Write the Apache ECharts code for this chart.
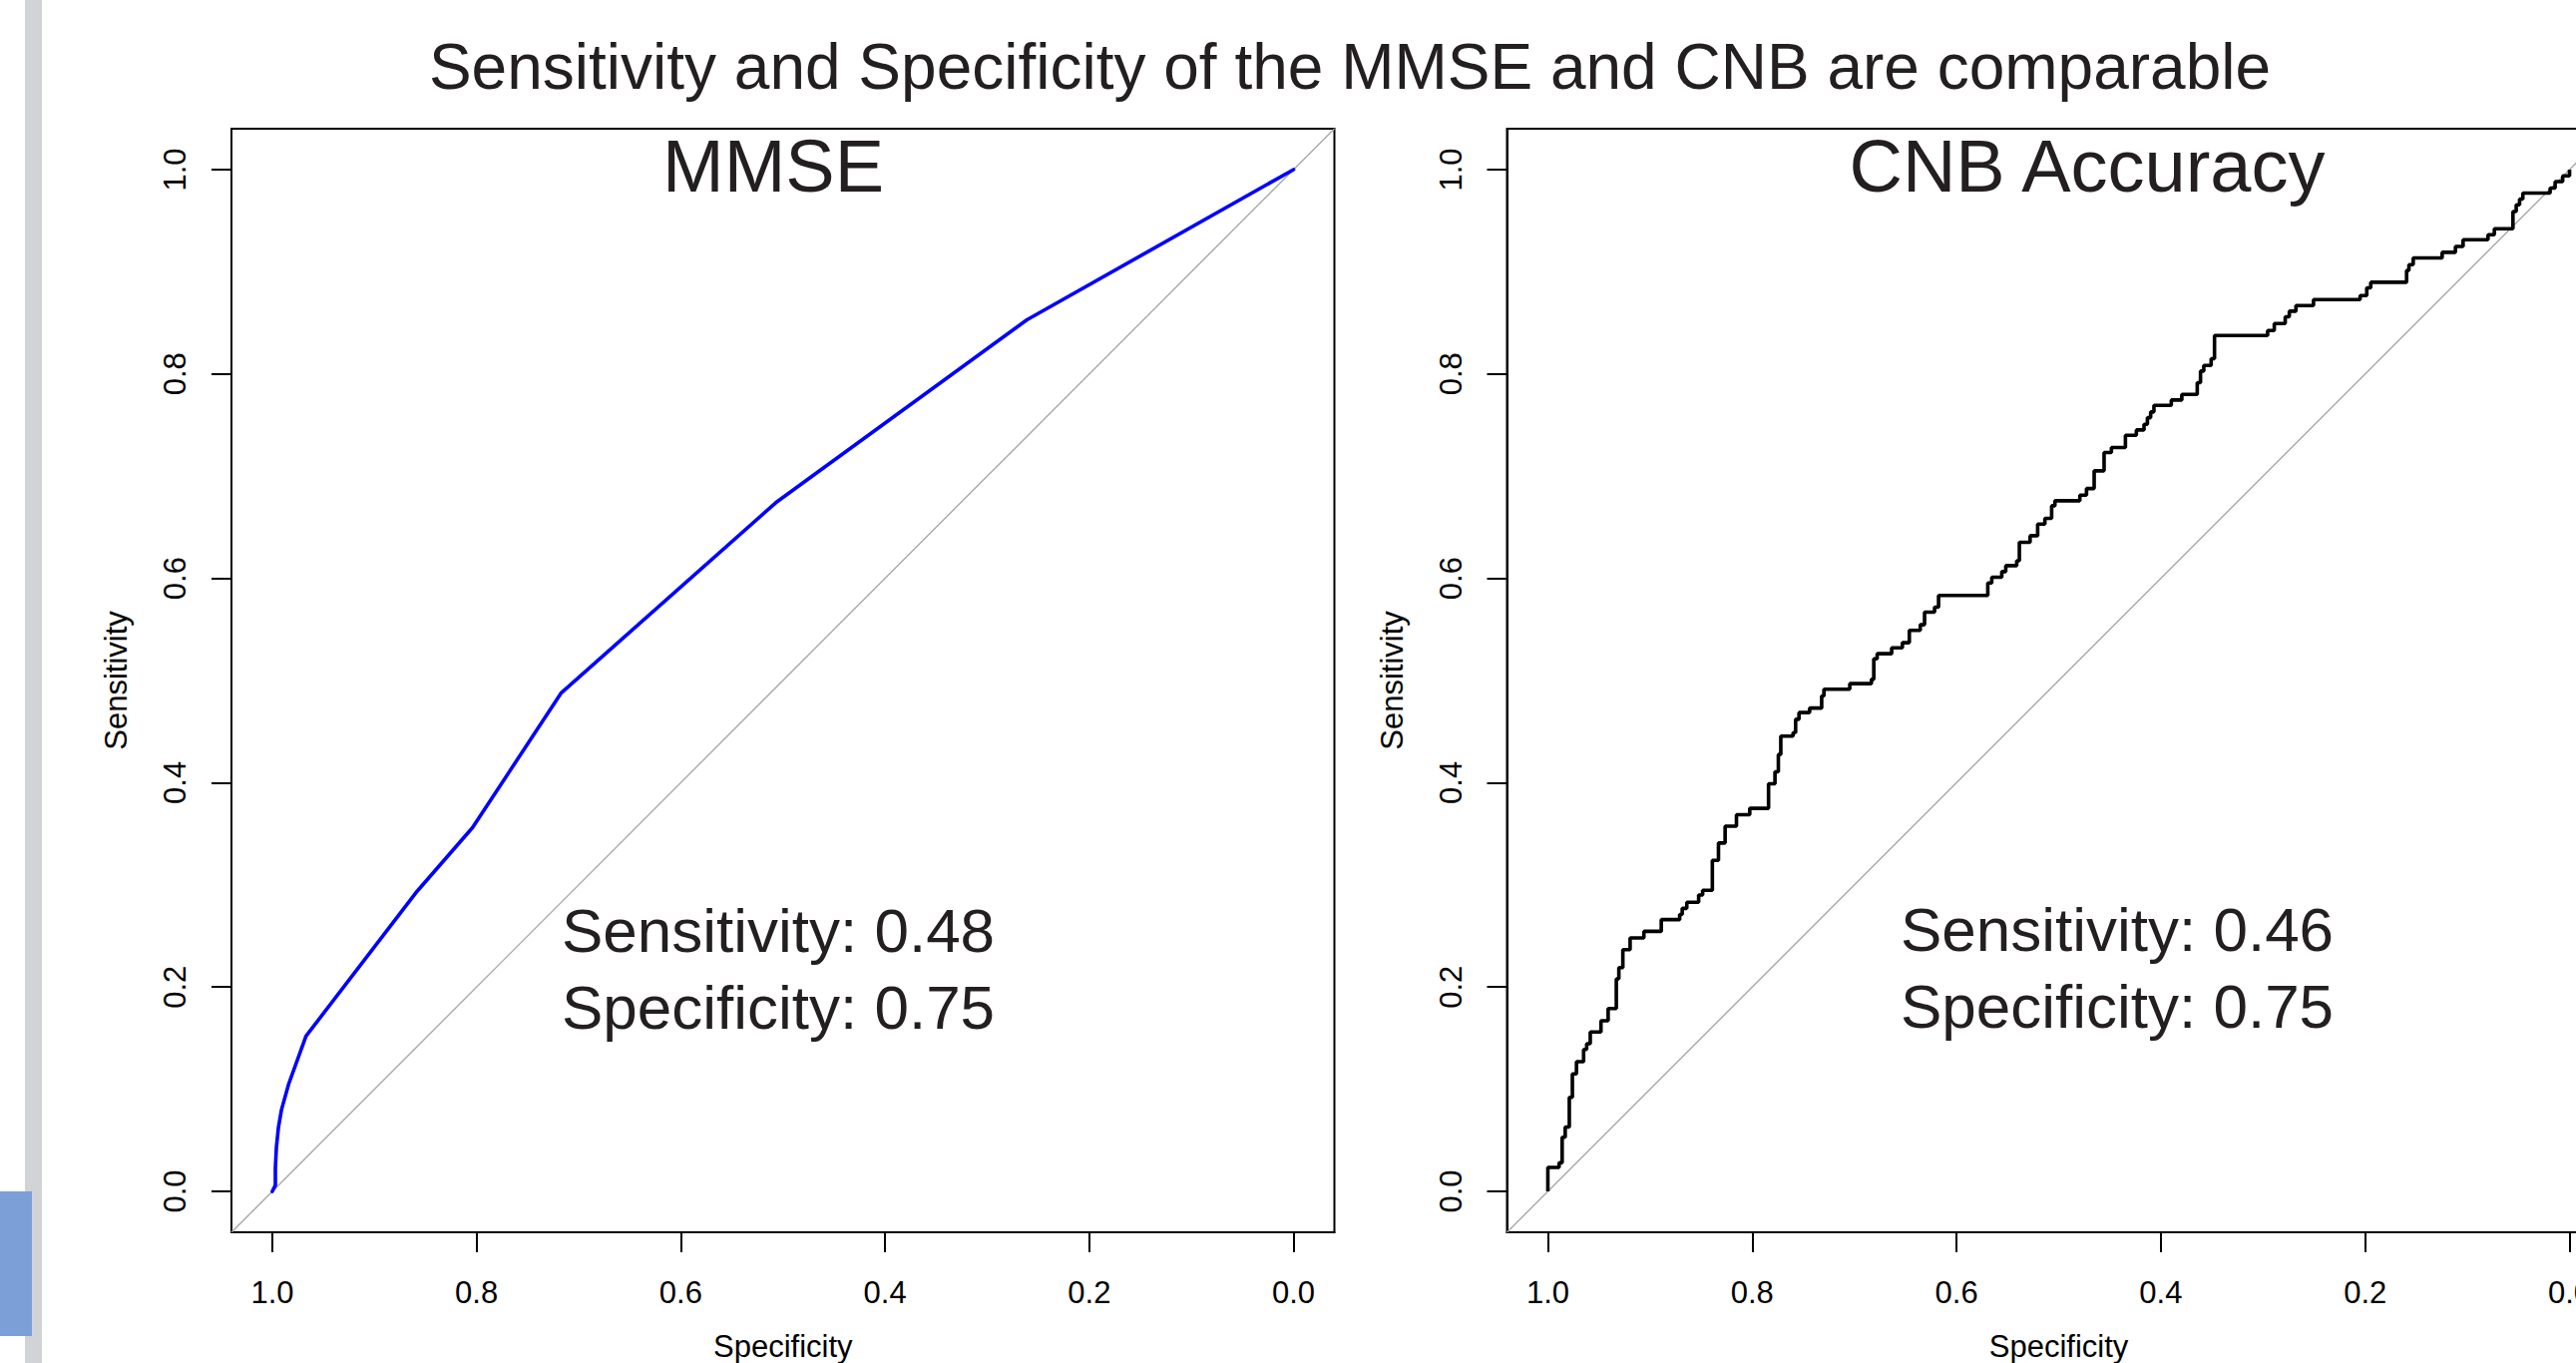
<!DOCTYPE html>
<html>
<head>
<meta charset="utf-8">
<script src="https://cdn.jsdelivr.net/npm/echarts@6/dist/echarts.min.js"></script>
<style>
html,body{margin:0;padding:0;background:#ffffff;}
#chart{width:2582px;height:1366px;}
</style>
</head>
<body>
<div id="chart"></div>
<script>
// ---------------- data ----------------
const mainTitle = 'Sensitivity and Specificity of the MMSE and CNB are comparable';
const panelTitles = ['MMSE', 'CNB Accuracy'];
const xAxisName = 'Specificity';
const yAxisName = 'Sensitivity';
const tickValues = [0, 0.2, 0.4, 0.6, 0.8, 1.0];

const mmseSpec = [1.0, 0.997, 0.997, 0.996, 0.994, 0.991, 0.984, 0.967, 0.858, 0.804, 0.717, 0.507, 0.261, 0.0];
const mmseSens = [0.0, 0.006, 0.023, 0.043, 0.0625, 0.080, 0.105, 0.152, 0.294, 0.356, 0.488, 0.674, 0.853, 1.0];

const cnbSpec = [1.0, 1.0, 0.989, 0.986, 0.983, 0.979, 0.976, 0.972, 0.965, 0.962, 0.9585, 0.948, 0.941, 0.933, 0.9305, 0.9266, 0.9195, 0.906, 0.889, 0.871, 0.8685, 0.864, 0.8524, 0.8485, 0.839, 0.833, 0.8265, 0.8154, 0.8024, 0.784, 0.7777, 0.7744, 0.772, 0.76, 0.7575, 0.7542, 0.7438, 0.732, 0.7298, 0.7045, 0.6833, 0.681, 0.6777, 0.6635, 0.653, 0.6462, 0.6355, 0.6313, 0.6215, 0.6176, 0.5694, 0.5655, 0.5557, 0.5518, 0.5411, 0.5385, 0.528, 0.5206, 0.5135, 0.5069, 0.5037, 0.4793, 0.4728, 0.4653, 0.4556, 0.4484, 0.4347, 0.424, 0.4165, 0.4132, 0.41, 0.4068, 0.3898, 0.3795, 0.3644, 0.3612, 0.358, 0.3508, 0.3475, 0.2955, 0.289, 0.2783, 0.2743, 0.2678, 0.2506, 0.205, 0.1985, 0.1946, 0.1595, 0.1572, 0.153, 0.1247, 0.1117, 0.1042, 0.0798, 0.0736, 0.0554, 0.0522, 0.0489, 0.0457, 0.019, 0.0141, 0.0067, 0.0];
const cnbSens = [0.0, 0.0234, 0.028, 0.053, 0.063, 0.092, 0.115, 0.127, 0.139, 0.1445, 0.156, 0.167, 0.179, 0.208, 0.219, 0.2366, 0.248, 0.2545, 0.266, 0.271, 0.277, 0.283, 0.29, 0.2947, 0.324, 0.341, 0.3575, 0.3687, 0.3749, 0.399, 0.4107, 0.4276, 0.4455, 0.449, 0.462, 0.4686, 0.473, 0.4849, 0.4914, 0.4969, 0.5011, 0.5213, 0.5262, 0.532, 0.537, 0.549, 0.5546, 0.5669, 0.5718, 0.5832, 0.5955, 0.6011, 0.6066, 0.6124, 0.6172, 0.6352, 0.6417, 0.6531, 0.6587, 0.671, 0.6759, 0.6814, 0.6879, 0.7052, 0.7231, 0.728, 0.74, 0.7452, 0.7507, 0.7572, 0.7628, 0.7693, 0.7745, 0.78, 0.7915, 0.8028, 0.8084, 0.8149, 0.8376, 0.8425, 0.8494, 0.8559, 0.8614, 0.8669, 0.8728, 0.8767, 0.8842, 0.8897, 0.9013, 0.9069, 0.9135, 0.919, 0.9248, 0.9314, 0.9363, 0.9421, 0.959, 0.9656, 0.9711, 0.977, 0.9819, 0.9883, 0.9939, 1.0];

const chanceSpec = [1.04, -0.04];
const chanceSens = [-0.04, 1.04];

const mmseStats = ['Sensitivity: 0.48', 'Specificity: 0.75'];
const cnbStats = ['Sensitivity: 0.46', 'Specificity: 0.75'];

// ---------------- chart ----------------
const FONT = '"Liberation Sans", Arial, Helvetica, sans-serif';
const zip = (a, b) => a.map((v, i) => [v, b[i]]);

const grids = [
  {left: 232, top: 129, width: 1105.5, height: 1106},
  {left: 1510.5, top: 129, width: 1106, height: 1106}
];

function xAx(i) {
  return {
    type: 'value', gridIndex: i, min: -0.04, max: 1.04, inverse: true,
    name: xAxisName, nameLocation: 'middle', nameGap: 99,
    nameTextStyle: {fontSize: 31, color: '#000', fontFamily: FONT},
    axisLine: {show: true, onZero: false, lineStyle: {color: '#000', width: 2}},
    axisTick: {show: true, inside: false, length: 20, customValues: tickValues, lineStyle: {color: '#000', width: 2}},
    axisLabel: {show: true, margin: 45, customValues: tickValues, formatter: v => Number(v).toFixed(1),
      fontSize: 31, color: '#000', fontFamily: FONT},
    splitLine: {show: false}
  };
}
function yAx(i) {
  return {
    type: 'value', gridIndex: i, min: -0.04, max: 1.04,
    name: yAxisName, nameLocation: 'middle', nameGap: 100, nameRotate: 90,
    nameTextStyle: {fontSize: 31, color: '#000', fontFamily: FONT},
    axisLine: {show: true, onZero: false, lineStyle: {color: '#000', width: 2}},
    axisTick: {show: true, inside: false, length: 20, customValues: tickValues, lineStyle: {color: '#000', width: 2}},
    axisLabel: {show: true, margin: 41, rotate: 90, customValues: tickValues, formatter: v => Number(v).toFixed(1),
      fontSize: 31, color: '#000', fontFamily: FONT},
    splitLine: {show: false}
  };
}

function txt(text, x, y, size) {
  return {
    type: 'text', x: x, y: y, silent: true, z: 100,
    style: {text: text, font: size + 'px ' + FONT, fill: '#231f20',
      align: 'center', verticalAlign: 'middle', textAlign: 'center', textVerticalAlign: 'middle'}
  };
}

const option = {
  animation: false,
  backgroundColor: '#ffffff',
  grid: grids.map(g => Object.assign({show: true, borderColor: '#000', borderWidth: 2, backgroundColor: 'transparent',
    containLabel: false, outerBoundsMode: 'none'}, g)),
  xAxis: [xAx(0), xAx(1)],
  yAxis: [yAx(0), yAx(1)],
  series: [
    {type: 'line', xAxisIndex: 0, yAxisIndex: 0, data: zip(chanceSpec, chanceSens), symbol: 'none', silent: true, clip: true,
      lineStyle: {color: '#a8a8a8', width: 1.4}, z: 1},
    {type: 'line', xAxisIndex: 1, yAxisIndex: 1, data: zip(chanceSpec, chanceSens), symbol: 'none', silent: true, clip: true,
      lineStyle: {color: '#a8a8a8', width: 1.4}, z: 1},
    {type: 'line', name: panelTitles[0], xAxisIndex: 0, yAxisIndex: 0, data: zip(mmseSpec, mmseSens), symbol: 'none', silent: true,
      lineStyle: {color: '#0000ff', width: 3.6, cap: 'round', join: 'round'}, z: 3},
    {type: 'line', name: panelTitles[1], xAxisIndex: 1, yAxisIndex: 1, data: zip(cnbSpec, cnbSens), step: 'end', symbol: 'none', silent: true,
      lineStyle: {color: '#000000', width: 3.6}, z: 3}
  ],
  graphic: [
    {type: 'rect', shape: {x: 25, y: 0, width: 17, height: 1366}, style: {fill: '#d2d3d6'}, silent: true, z: 0},
    {type: 'rect', shape: {x: 0, y: 1194, width: 32, height: 145}, style: {fill: '#7b9fd6'}, silent: true, z: 1},
    txt(mainTitle, 1353, 66.5, 64),
    txt(panelTitles[0], 775, 166, 74),
    txt(panelTitles[1], 2092, 166, 74),
    txt(mmseStats[0], 780, 932.5, 62),
    txt(mmseStats[1], 780, 1009.5, 62),
    txt(cnbStats[0], 2122, 931.5, 62),
    txt(cnbStats[1], 2122, 1008.5, 62)
  ]
};

const chart = echarts.init(document.getElementById('chart'), null, {renderer: 'svg', width: 2582, height: 1366});
chart.setOption(option);
</script>
</body>
</html>
